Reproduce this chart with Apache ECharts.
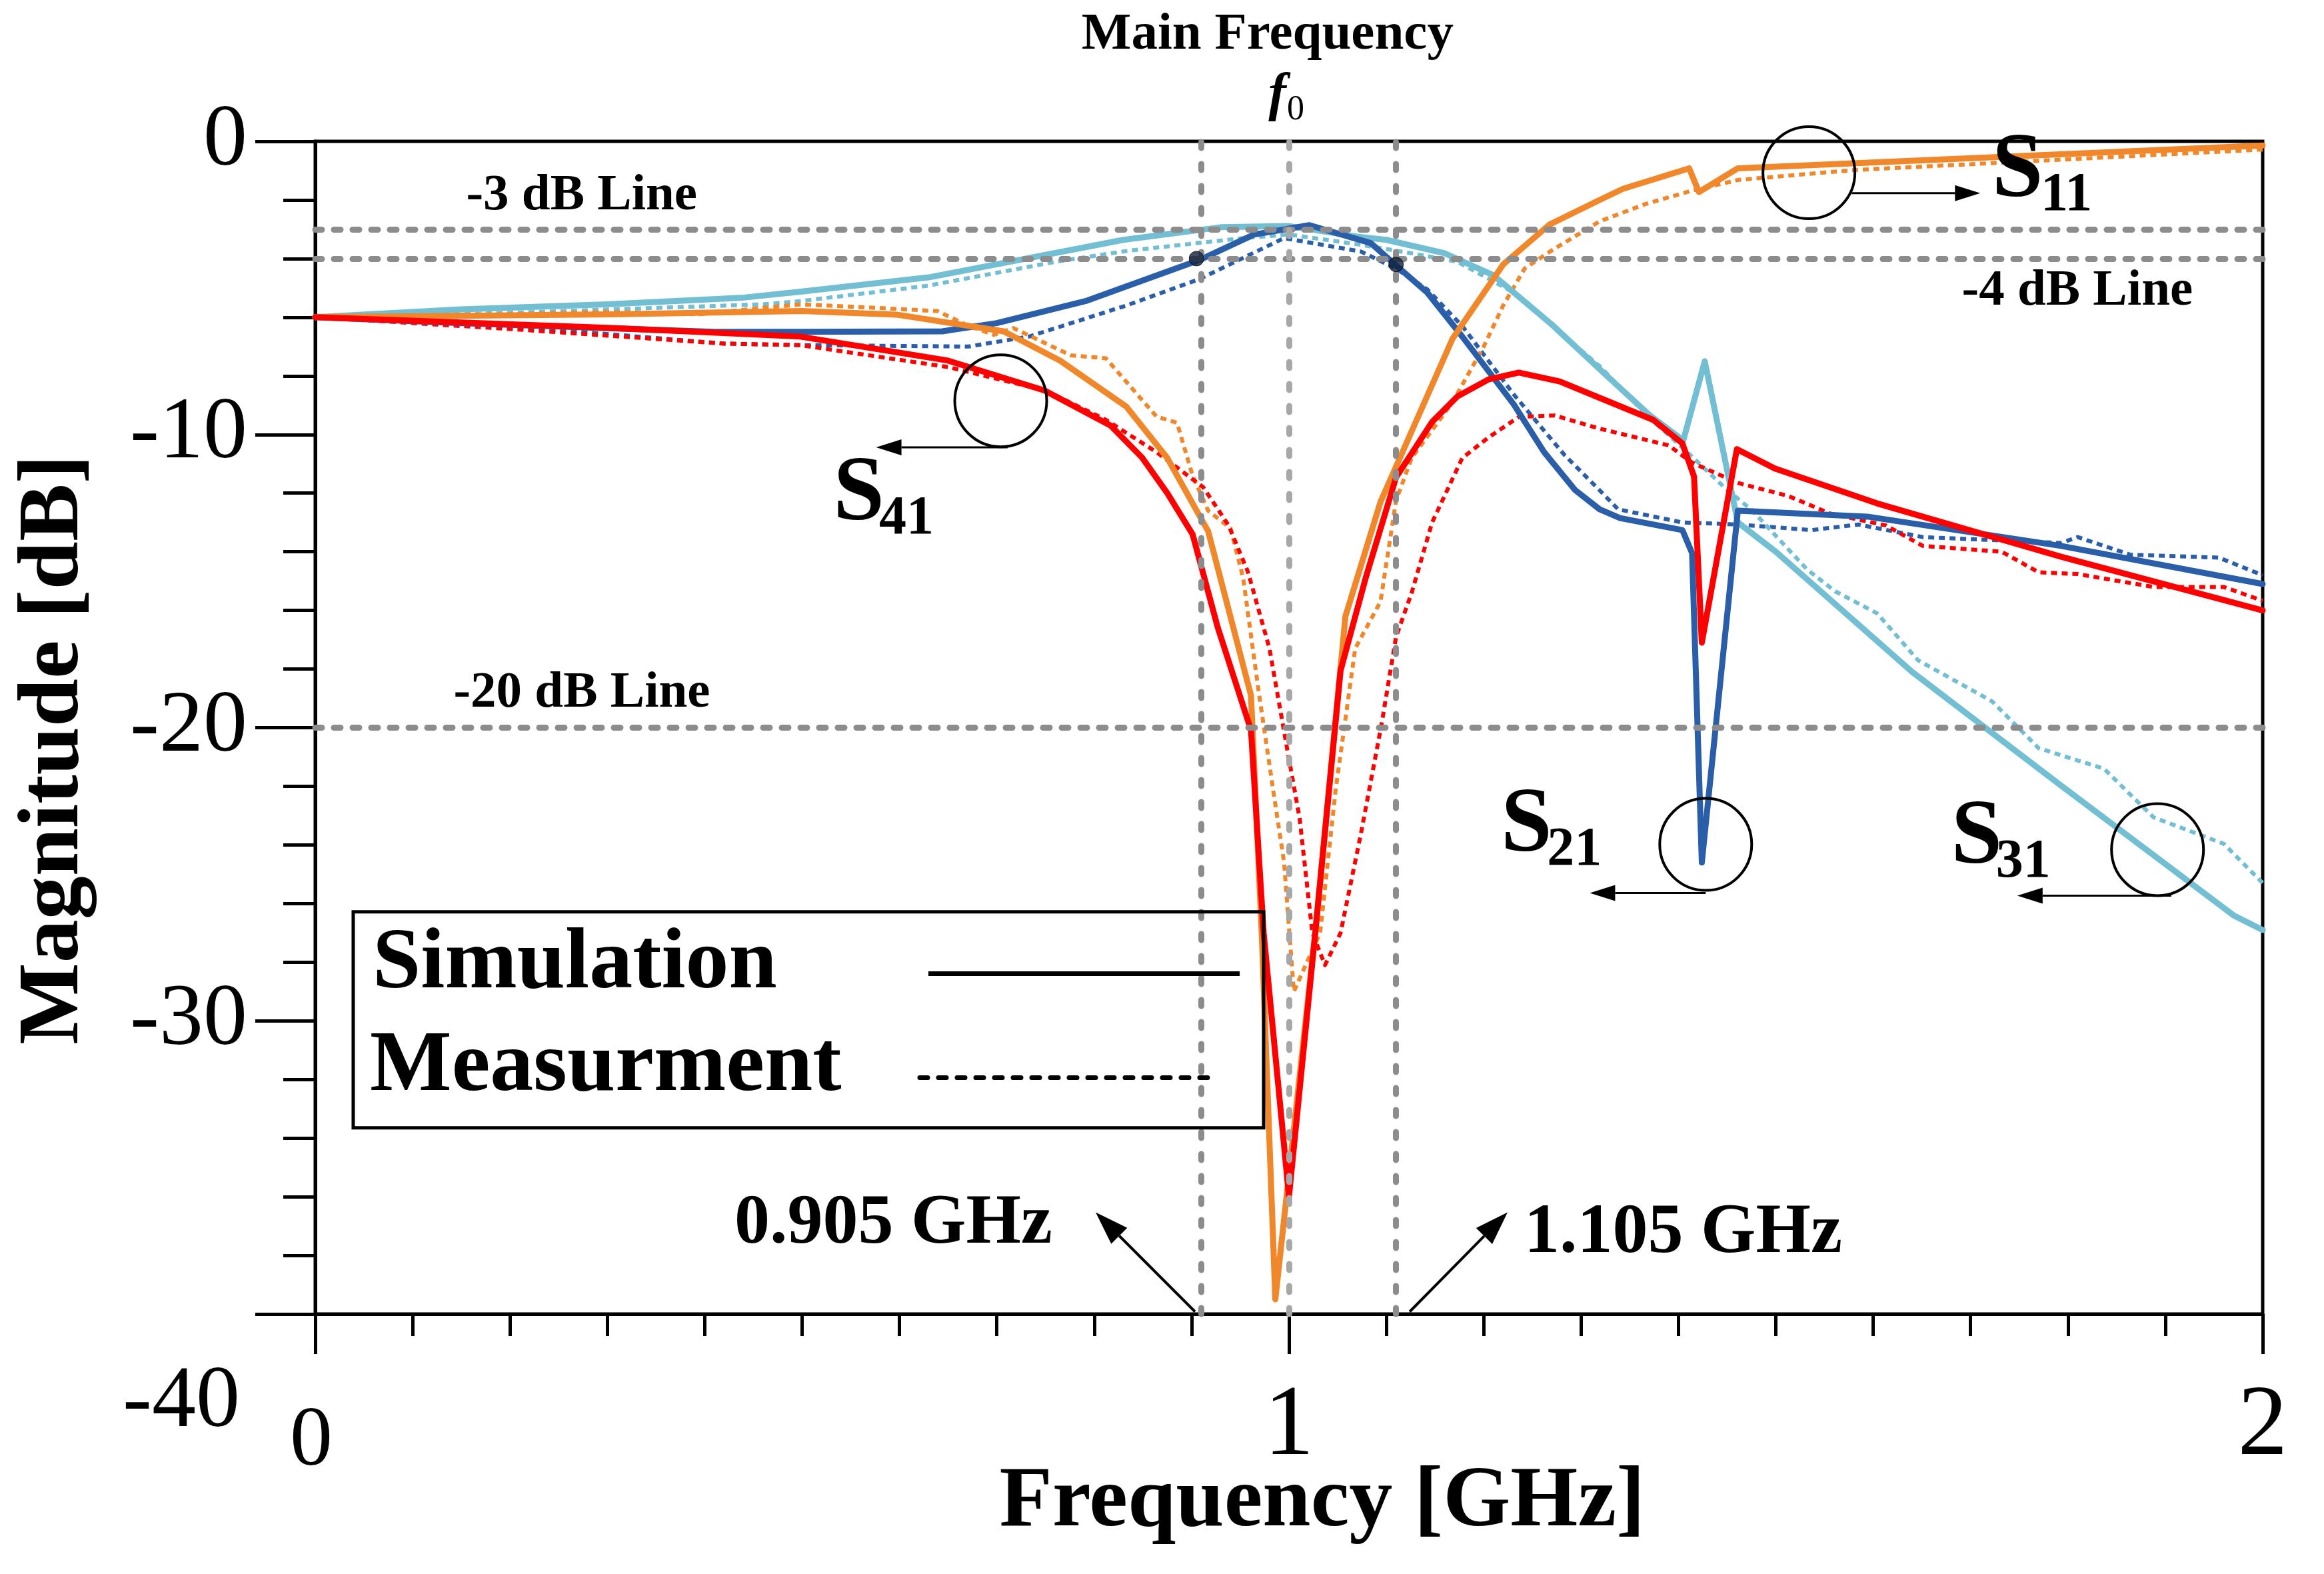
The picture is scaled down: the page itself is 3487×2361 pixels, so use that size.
<!DOCTYPE html>
<html><head><meta charset="utf-8">
<script src="https://cdn.jsdelivr.net/npm/echarts@6/dist/echarts.min.js"></script>
<style>html,body{margin:0;padding:0;background:#fff}#chart{width:3487px;height:2361px}</style>
</head><body><div id="chart"></div>
<script>
// ---------- data (frequency GHz, magnitude dB) ----------
const s11Sim = [[0,-6],[0.305,-5.9],[0.5,-5.79],[0.597,-5.91],[0.707,-6.48],[0.765,-7.48],[0.833,-9.05],[0.875,-10.8],[0.917,-13.3],[0.961,-18.9],[0.972,-27],[0.986,-39.5],[1.027,-27],[1.058,-16.2],[1.094,-12.3],[1.168,-6.73],[1.22,-4.2],[1.268,-2.83],[1.319,-2.0],[1.343,-1.62],[1.411,-0.92],[1.421,-1.73],[1.461,-0.92],[2.0,-0.14]];
const s11Meas = [[0,-6],[0.1,-5.95],[0.2,-5.9],[0.3,-5.82],[0.394,-5.9],[0.46,-5.68],[0.5,-5.56],[0.576,-5.68],[0.639,-5.79],[0.671,-6.3],[0.697,-6.6],[0.717,-6.37],[0.776,-7.3],[0.812,-7.4],[0.864,-9.39],[0.885,-9.6],[0.901,-11.4],[0.917,-12.6],[0.94,-13.2],[0.953,-14.9],[0.969,-18.8],[0.985,-22.4],[0.995,-24.6],[1.005,-29.0],[1.032,-27],[1.048,-22.1],[1.068,-17.3],[1.094,-15.7],[1.11,-12.25],[1.126,-10.8],[1.168,-8.9],[1.2,-7.0],[1.22,-5.6],[1.242,-4.34],[1.268,-3.76],[1.319,-2.73],[1.366,-2.14],[1.414,-1.68],[1.461,-1.32],[1.509,-1.18],[1.58,-0.98],[2.0,-0.28]];
const s21Sim = [[0,-6],[0.15,-6.2],[0.41,-6.5],[0.498,-6.5],[0.644,-6.48],[0.70,-6.2],[0.791,-5.45],[0.908,-4.05],[0.964,-3.18],[1.021,-2.86],[1.084,-3.47],[1.11,-4.23],[1.142,-5.16],[1.178,-6.66],[1.231,-8.98],[1.262,-10.6],[1.294,-11.9],[1.319,-12.55],[1.34,-12.85],[1.404,-13.26],[1.414,-14.05],[1.424,-24.6],[1.461,-12.6],[1.594,-12.8],[1.793,-13.8],[2.0,-15.1]];
const s21Meas = [[0,-6],[0.2,-6.3],[0.42,-6.9],[0.498,-6.95],[0.671,-7.0],[0.733,-6.66],[0.833,-5.6],[0.908,-4.7],[0.995,-3.3],[1.074,-3.76],[1.11,-4.34],[1.142,-5.05],[1.178,-6.3],[1.231,-8.64],[1.283,-10.7],[1.319,-11.9],[1.338,-12.55],[1.404,-13.0],[1.461,-13.07],[1.537,-13.26],[1.585,-13.07],[1.651,-13.5],[1.793,-13.7],[1.81,-13.5],[1.864,-14.1],[1.955,-14.2],[2.0,-14.8]];
const s31Sim = [[0,-6],[0.15,-5.73],[0.3,-5.56],[0.44,-5.33],[0.5,-5.12],[0.63,-4.64],[0.83,-3.36],[0.93,-2.93],[1.0,-2.89],[1.07,-3.25],[1.1,-3.36],[1.16,-3.82],[1.21,-4.57],[1.27,-6.25],[1.32,-7.8],[1.37,-9.33],[1.405,-10.2],[1.427,-7.5],[1.461,-13.0],[1.5,-14.0],[1.64,-18.1],[1.79,-21.9],[1.97,-26.4],[2.0,-26.9]];
const s31Meas = [[0,-6],[0.2,-5.85],[0.46,-5.56],[0.498,-5.45],[0.628,-4.93],[0.76,-4.11],[0.833,-3.74],[0.906,-3.47],[0.953,-3.3],[1.0,-3.18],[1.074,-3.53],[1.126,-3.82],[1.173,-4.11],[1.231,-5.16],[1.32,-7.7],[1.366,-9.3],[1.409,-10.6],[1.447,-11.8],[1.476,-12.6],[1.532,-14.6],[1.561,-15.35],[1.604,-16.1],[1.646,-17.7],[1.722,-19.1],[1.77,-20.7],[1.837,-21.4],[1.888,-23.06],[1.96,-23.96],[2.0,-25.3]];
const s41Sim = [[0,-6],[0.305,-6.37],[0.498,-6.66],[0.65,-7.48],[0.749,-8.5],[0.817,-9.7],[0.849,-10.78],[0.875,-12.0],[0.901,-13.4],[0.927,-16.6],[0.961,-20.08],[0.974,-27],[1.0,-36],[1.027,-27],[1.053,-18.05],[1.079,-14.87],[1.11,-11.46],[1.147,-9.57],[1.173,-8.7],[1.205,-8.12],[1.236,-7.89],[1.278,-8.19],[1.319,-8.75],[1.374,-9.5],[1.404,-10.3],[1.416,-11.43],[1.424,-17.1],[1.46,-10.5],[1.499,-11.16],[1.604,-12.35],[1.793,-14.17],[2.0,-16.0]];
const s41Meas = [[0,-6],[0.2,-6.4],[0.42,-6.9],[0.498,-6.95],[0.65,-7.7],[0.75,-8.5],[0.812,-9.5],[0.864,-10.6],[0.896,-11.4],[0.912,-11.8],[0.938,-13.1],[0.958,-14.7],[0.98,-17.3],[0.998,-20.7],[1.011,-23.1],[1.024,-27],[1.037,-28.1],[1.053,-27],[1.074,-23.6],[1.095,-19.9],[1.11,-16.9],[1.126,-15.4],[1.147,-13.0],[1.178,-10.8],[1.205,-10.1],[1.236,-9.4],[1.273,-9.35],[1.319,-9.8],[1.39,-10.37],[1.414,-10.96],[1.461,-11.65],[1.513,-12.1],[1.556,-12.7],[1.613,-13.1],[1.651,-13.8],[1.732,-14.0],[1.77,-14.7],[1.81,-14.76],[1.888,-15.2],[1.96,-15.2],[2.0,-15.67]];
const bandEdgePoints = [[0.905,-4],[1.11,-4.2]];
const hRefLines = [-3, -4, -20];
const vRefLines = [0.905, 1.0, 1.11];
const xTicks = [0, 1, 2];
const yTicks = [0, -10, -20, -30, -40];

// ---------- style ----------
const FONT = 'Liberation Serif';
const C_OR = '#F0882B', C_DB = '#2B5EA8', C_LB = '#72BED3', C_RD = '#FF0000';
const GREY = '#8c8c8c', GREY_L = '#a8a8a8';

const chart = echarts.init(document.getElementById('chart'), null, {renderer:'canvas'});

function sim(name, data, color, z){ return {name, type:'line', data, showSymbol:false, symbol:'none', z,
  lineStyle:{color, width:9, cap:'round', join:'round'}, itemStyle:{color}, animation:false, silent:true}; }
function meas(name, data, color, z){ return {name, type:'line', data, showSymbol:false, symbol:'none', z,
  lineStyle:{color, width:6, type:[9,7], cap:'butt', join:'round'}, itemStyle:{color}, animation:false, silent:true}; }

const option = {
  animation:false,
  backgroundColor:'#fff',
  textStyle:{fontFamily:FONT},
  grid:{left:473, right:92, top:212, bottom:390, show:true, borderColor:'#000', borderWidth:5, outerBoundsMode:'none', containLabel:false},
  xAxis:{type:'value', min:0, max:2, interval:1,
    axisLine:{show:true, onZero:false, lineStyle:{color:'#000', width:5}},
    axisTick:{show:true, length:60, lineStyle:{color:'#000', width:5}},
    minorTick:{show:true, splitNumber:10, length:33, lineStyle:{color:'#000', width:5}},
    splitLine:{show:false}, minorSplitLine:{show:false},
    axisLabel:{color:'#000', fontFamily:FONT, fontSize:150, margin:96,
      formatter:v => xTicks.includes(v) ? (v===0 ? '{z|0}' : '{b|'+v+'}') : '',
      rich:{z:{fontSize:128, fontFamily:FONT, color:'#000', padding:[32,12,0,0]}, b:{fontSize:150, fontFamily:FONT, color:'#000'}}},
    name:'Frequency [GHz]', nameLocation:'middle', nameGap:218, nameMoveOverlap:false,
    nameTextStyle:{color:'#000', fontFamily:FONT, fontWeight:'bold', fontSize:130, padding:[0,0,0,100]}
  },
  yAxis:{type:'value', min:-40, max:0, interval:10,
    axisLine:{show:true, onZero:false, lineStyle:{color:'#000', width:5}},
    axisTick:{show:true, length:90, lineStyle:{color:'#000', width:5}},
    minorTick:{show:true, splitNumber:5, length:48, lineStyle:{color:'#000', width:5}},
    splitLine:{show:false}, minorSplitLine:{show:false},
    axisLabel:{color:'#000', fontFamily:FONT, fontSize:132, margin:102,
      formatter:v => (v===-40 ? '' : String(v))},
    name:'Magnitude [dB]', nameLocation:'middle', nameGap:326, nameRotate:90, nameMoveOverlap:false,
    nameTextStyle:{color:'#000', fontFamily:FONT, fontWeight:'bold', fontSize:130, padding:[0,66,0,0]}
  },
  series:[
    {name:'ref', type:'line', data:[], z:1, silent:true,
      markLine:{silent:true, symbol:['none','none'], label:{show:false}, animation:false,
        data:[
          ...hRefLines.map(v => ({yAxis:v, lineStyle:{color:GREY, width:9, type:[10,18], cap:'round'}})),
          ...vRefLines.map(v => ({xAxis:v, lineStyle:{color: v===1 ? GREY_L : GREY, width:9, type:[9,24], cap:'round'}}))
        ]}},
    meas('S21 meas', s21Meas, C_DB, 3),
    meas('S31 meas', s31Meas, C_LB, 3),
    meas('S11 meas', s11Meas, C_OR, 3),
    meas('S41 meas', s41Meas, C_RD, 3),
    sim('S31', s31Sim, C_LB, 4),
    sim('S21', s21Sim, C_DB, 4),
    sim('S11', s11Sim, C_OR, 4),
    sim('S41', s41Sim, C_RD, 4),
    {name:'edges', type:'scatter', data:bandEdgePoints, symbol:'circle', symbolSize:22, z:6,
      itemStyle:{color:'#10203d', borderColor:'#000', borderWidth:1}, silent:true}
  ]
};
chart.setOption(option);

// ---------- annotations (anchored in data coordinates) ----------
const P = (f, d) => chart.convertToPixel({gridIndex:0}, [f, d]);
const g = [];
function txt(f, d, text, size, opts){
  const p = P(f, d);
  g.push({type:'text', x:p[0], y:p[1], z:100, silent:true, style:Object.assign({text, fill:'#000',
    font:(opts&&opts.font) || ('bold ' + size + 'px "' + FONT + '"'), align:(opts&&opts.align)||'left', verticalAlign:'middle'})});
}
function arrow(a, b, headLen, headW, lw){
  const p0 = P(a[0], a[1]), p1 = P(b[0], b[1]);
  const dx = p1[0]-p0[0], dy = p1[1]-p0[1], L = Math.hypot(dx, dy), ux = dx/L, uy = dy/L;
  const bx = p1[0]-ux*headLen, by = p1[1]-uy*headLen, nx = -uy, ny = ux;
  g.push({type:'line', z:100, silent:true, shape:{x1:p0[0], y1:p0[1], x2:bx, y2:by}, style:{stroke:'#000', lineWidth:lw}});
  g.push({type:'polygon', z:100, silent:true, shape:{points:[[p1[0],p1[1]],[bx+nx*headW/2, by+ny*headW/2],[bx-nx*headW/2, by-ny*headW/2]]}, style:{fill:'#000'}});
}
function ring(f, d, r){
  const p = P(f, d);
  g.push({type:'ellipse', z:100, silent:true, shape:{cx:p[0], cy:p[1], rx:r, ry:r}, style:{stroke:'#000', lineWidth:4, fill:null}});
}
function sLabel(f, d, fs, sub, dy){
  txt(f, d, 'S', 138);
  txt(fs, dy, sub, 82);
}

// title texts
txt(0.978, 3.62, 'Main Frequency', 79, {align:'center'});
txt(0.988, 1.55, 'f', 80, {font:'italic bold 80px "' + FONT + '"', align:'center'});
txt(0.998, 1.05, '0', 52, {font:'52px "' + FONT + '"'});
txt(0.155, -1.865, '-3 dB Line', 77);
txt(1.691, -5.12, '-4 dB Line', 77);
txt(0.142, -18.84, '-20 dB Line', 77);
txt(0.4305, -36.94, '0.905 GHz', 106);
txt(1.2416, -37.26, '1.105 GHz', 106);
// y label -40 (offset low as in reference)
txt(-0.0773, -43.04, '-40', 132, {font:'132px "' + FONT + '"', align:'right'});

// S-parameter tags
sLabel(0.532, -12.08, 0.579, '41', -12.88);
sLabel(1.2177, -23.38, 1.265, '21', -24.18);
sLabel(1.680, -23.79, 1.726, '31', -24.61);
sLabel(1.722, -1.05, 1.772, '11', -1.865);

// rings + arrows
ring(0.704, -8.85, 69);  arrow([0.711,-10.44],[0.576,-10.44], 38, 24, 3);
ring(1.428, -23.98, 69); arrow([1.428,-25.64],[1.309,-25.64], 38, 24, 3);
ring(1.892, -24.16, 69); arrow([1.906,-25.73],[1.748,-25.73], 38, 24, 3);
ring(1.534, -1.07, 69);  arrow([1.578,-1.77],[1.710,-1.77], 38, 24, 3);
arrow([0.9035,-39.92],[0.8015,-36.53], 50, 34, 4);
arrow([1.124,-39.92],[1.2245,-36.53], 50, 34, 4);

// legend box
(function(){
  const a = P(0.039, -26.28), b = P(0.974, -33.65);
  g.push({type:'rect', z:100, silent:true, shape:{x:a[0], y:a[1], width:b[0]-a[0], height:b[1]-a[1]}, style:{stroke:'#000', lineWidth:5, fill:null}});
  txt(0.0589, -28.1, 'Simulation', 130);
  txt(0.0561, -31.6, 'Measurment', 130);
  const l1a = P(0.6297, -28.39), l1b = P(0.9494, -28.39);
  g.push({type:'line', z:100, silent:true, shape:{x1:l1a[0], y1:l1a[1], x2:l1b[0], y2:l1b[1]}, style:{stroke:'#000', lineWidth:7}});
  const l2a = P(0.6208, -31.94), l2b = P(0.9247, -31.94);
  g.push({type:'line', z:100, silent:true, shape:{x1:l2a[0], y1:l2a[1], x2:l2b[0], y2:l2b[1]}, style:{stroke:'#000', lineWidth:7, lineDash:[12,16], lineCap:'round'}});
})();

chart.setOption({graphic:{elements:g}});
</script>
</body></html>
